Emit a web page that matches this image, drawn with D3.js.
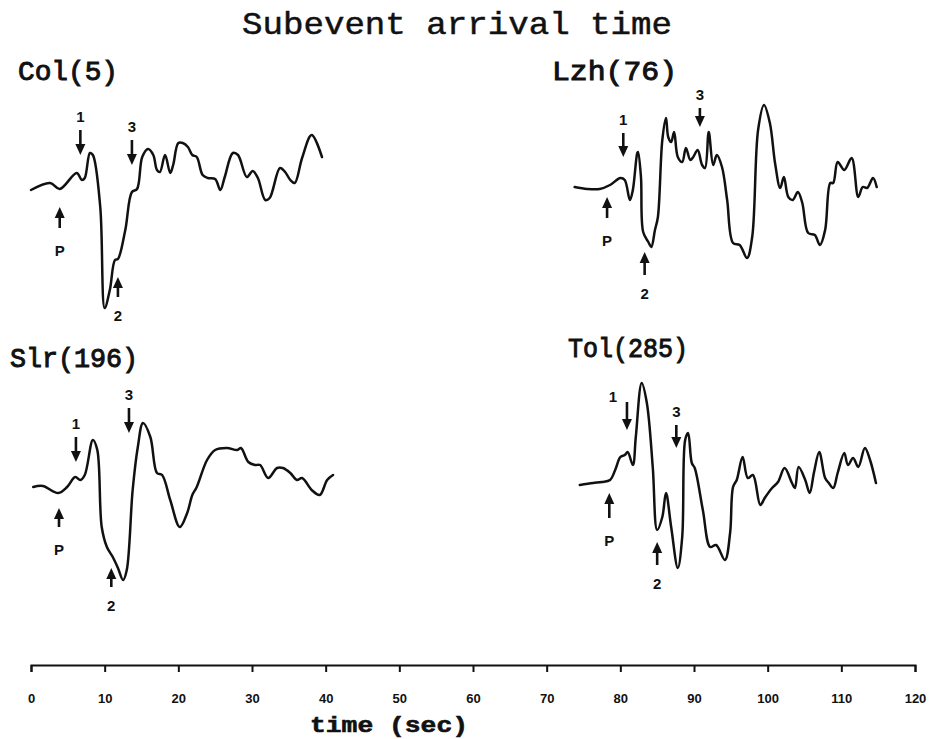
<!DOCTYPE html>
<html>
<head>
<meta charset="utf-8">
<script src="https://cdn.jsdelivr.net/npm/d3@7"></script>
<style>
  body { margin: 0; background: #fff; }
  svg { display: block; }
</style>
</head>
<body>
<div id="chart"></div>
<script>
// axis ticks (seconds)
const tickValues = [0, 10, 20, 30, 40, 50, 60, 70, 80, 90, 100, 110, 120];

// Col(5)
const colTime = [0, 2.6, 3.9, 6.2, 6.9, 7.3, 8.0, 8.4, 9.4, 10.0, 10.7, 11.4, 11.8, 12.8, 13.7, 14.4, 15.1, 15.9, 16.6, 17.1, 17.5, 18.2, 18.9, 19.3, 20.0, 20.6, 21.3, 21.9, 22.5, 23.3, 24.0, 25.0, 25.7, 26.3, 27.4, 28.1, 29.3, 30.1, 30.8, 31.8, 32.4, 33.8, 34.5, 35.2, 35.8, 36.8, 38.1, 39.5];
const colAmp = [0, 7, 1, 17, 10, 12, 37, 35, -17, -118, -100, -70, -69, -40, -2, 1, 33, 41, 35, 20, 18, 35, 17, 25, 47, 47, 43, 35, 33, 15, 12, 11, 0, 13, 37, 35, 13, 19, 12, -10, -8, 22, 18, 10, 7, 32, 55, 33];
const colPicks = [
  { label: "P", t: 3.9, dir: "up", tip: -17, tail: -38 },
  { label: "1", t: 6.7, dir: "down", tip: 35, tail: 60 },
  { label: "2", t: 11.8, dir: "up", tip: -87, tail: -107 },
  { label: "3", t: 13.7, dir: "down", tip: 25, tail: 50 }
];

// Lzh(76)
const lzhTime = [73.8, 75.5, 77.2, 78.6, 80.0, 80.6, 81.3, 81.7, 82.3, 82.4, 82.8, 83.1, 83.8, 84.2, 84.7, 85.1, 85.7, 86.2, 86.5, 86.9, 87.3, 87.8, 88.4, 88.9, 89.5, 89.9, 90.5, 91.1, 91.5, 92.0, 92.6, 93.1, 93.8, 94.5, 95.3, 96.2, 97.2, 97.9, 98.7, 99.5, 100.3, 101.0, 101.7, 102.2, 102.8, 103.4, 104.1, 104.7, 105.5, 106.4, 107.1, 107.8, 108.5, 108.9, 109.5, 110.4, 111.4, 112.3, 112.9, 113.5, 114.3, 114.8];
const lzhAmp = [2, 0, 0, 4, 11, 9, -11, -1, 36, 37, 12, -43, -53, -58, -41, -28, 49, 71, 52, 47, 57, 32, 27, 41, 29, 32, 39, 24, 21, 57, 24, 34, 22, -11, -54, -56, -69, -48, 59, 84, 66, 26, 1, 12, -8, -11, -3, -14, -44, -46, -56, -41, 6, 6, 27, 19, 31, -8, 2, 1, 11, 2];
const lzhPicks = [
  { label: "P", t: 78.2, dir: "up", tip: -8, tail: -29 },
  { label: "1", t: 80.4, dir: "down", tip: 32, tail: 56 },
  { label: "2", t: 83.3, dir: "up", tip: -63, tail: -86 },
  { label: "3", t: 90.8, dir: "down", tip: 62, tail: 81 }
];

// Slr(196)
const slrTime = [0.3, 1.6, 3.7, 4.9, 6.0, 6.7, 7.3, 8.4, 9.0, 9.6, 10.3, 11.1, 11.8, 12.5, 13.0, 13.8, 14.5, 15.2, 16.2, 17.1, 17.8, 18.9, 20.2, 21.2, 21.9, 22.5, 23.9, 25.0, 26.6, 28.0, 28.5, 29.5, 30.4, 31.1, 32.2, 33.4, 34.2, 35.2, 36.1, 36.8, 38.1, 39.2, 40.2, 41.0];
const slrAmp = [0, 1, -6, 0, 10, 7, 12, 47, 37, -40, -60, -70, -81, -93, -83, -3, 40, 64, 50, 14, 12, -13, -40, -26, -8, 0, 27, 37, 39, 37, 39, 25, 22, 22, 9, 19, 19, 14, 7, 9, -3, -8, 7, 12];
const slrPicks = [
  { label: "P", t: 3.8, dir: "up", tip: -21, tail: -40 },
  { label: "1", t: 6.1, dir: "down", tip: 25, tail: 50 },
  { label: "2", t: 10.9, dir: "up", tip: -81, tail: -100 },
  { label: "3", t: 13.3, dir: "down", tip: 54, tail: 79 }
];

// Tol(285)
const tolTime = [74.5, 76.3, 77.5, 78.6, 79.3, 80.0, 80.6, 81.0, 81.7, 82.1, 82.9, 83.6, 84.4, 85.0, 85.7, 86.2, 86.9, 87.8, 88.4, 88.8, 89.2, 89.7, 90.1, 91.2, 92.2, 93.0, 94.2, 94.9, 95.3, 95.8, 96.6, 97.3, 98.0, 99.0, 99.6, 100.6, 101.4, 102.3, 103.3, 103.7, 104.2, 105.1, 105.7, 106.3, 107.0, 107.8, 108.3, 108.9, 109.5, 110.4, 110.9, 111.6, 112.3, 113.2, 113.9, 114.7];
const tolAmp = [-2, 0, 1, 3, 13, 26, 28, 31, 18, 46, 100, 80, 16, -47, -34, -10, -44, -85, -54, 43, 50, 20, 15, -27, -64, -62, -77, -50, -4, 3, 26, 5, 8, -22, -15, -5, 1, 15, 0, -5, 16, 3, -10, 11, 31, 5, 0, -5, 10, 30, 18, 25, 16, 35, 23, 0];
const tolPicks = [
  { label: "P", t: 78.5, dir: "up", tip: -10, tail: -35 },
  { label: "1", t: 80.9, dir: "down", tip: 53, tail: 81 },
  { label: "2", t: 85.0, dir: "up", tip: -59, tail: -82 },
  { label: "3", t: 87.6, dir: "down", tip: 35, tail: 58 }
];

const stations = [
  { name: "Col(5)", time: colTime, amp: colAmp, picks: colPicks },
  { name: "Lzh(76)", time: lzhTime, amp: lzhAmp, picks: lzhPicks },
  { name: "Slr(196)", time: slrTime, amp: slrAmp, picks: slrPicks },
  { name: "Tol(285)", time: tolTime, amp: tolAmp, picks: tolPicks }
];

// layout
const width = 929, height = 739;
const baselines = [190, 189, 487, 483];
const nameBoxes = [
  { x: 18, y: 80, w: 100 },
  { x: 552, y: 80, w: 125 },
  { x: 10, y: 367, w: 128 },
  { x: 568, y: 357, w: 120 }
];
const labelNudge = { "Tol(285)-1": [-14, 8] };

const svg = d3.select("#chart")
  .append("svg")
  .attr("width", width)
  .attr("height", height);

const ink = "#111";

const x = d3.scaleLinear()
  .domain([0, 120])
  .range([31, 915]);

// title
svg.append("text")
  .attr("x", 457)
  .attr("y", 34)
  .attr("text-anchor", "middle")
  .attr("font-family", "Liberation Mono, Courier New, monospace")
  .attr("font-size", 32)
  .attr("textLength", 430)
  .attr("lengthAdjust", "spacingAndGlyphs")
  .attr("fill", ink)
  .attr("stroke", ink)
  .attr("stroke-width", 0.5)
  .text("Subevent arrival time");

stations.forEach((s, i) => renderTrace(svg, s, baselines[i], nameBoxes[i]));

function renderTrace(root, station, baseline, box) {
  const y = d3.scaleLinear()
    .domain([-100, 100])
    .range([baseline + 100, baseline - 100]);

  const pts = station.time.map((t, k) => [t, station.amp[k]]);
  const line = d3.line()
    .x(d => x(d[0]))
    .y(d => y(d[1]))
    .curve(d3.curveCatmullRom.alpha(0.5));

  const g = root.append("g").attr("class", "trace");

  g.append("text")
    .attr("x", box.x)
    .attr("y", box.y)
    .attr("font-family", "Liberation Mono, Courier New, monospace")
    .attr("font-size", 28)
    .attr("textLength", box.w)
    .attr("lengthAdjust", "spacingAndGlyphs")
    .attr("fill", ink)
    .attr("stroke", ink)
    .attr("stroke-width", 1)
    .text(station.name);

  g.append("path")
    .datum(pts)
    .attr("fill", "none")
    .attr("stroke", ink)
    .attr("stroke-width", 2.5)
    .attr("stroke-linejoin", "round")
    .attr("stroke-linecap", "round")
    .attr("d", line);

  // pick arrows
  const picks = g.selectAll("g.pick")
    .data(station.picks)
    .join("g")
    .attr("class", "pick");

  picks.append("line")
    .attr("x1", d => x(d.t))
    .attr("x2", d => x(d.t))
    .attr("y1", d => y(d.tail))
    .attr("y2", d => y(d.tip) + (d.dir === "up" ? 6 : -6))
    .attr("stroke", ink)
    .attr("stroke-width", 2.6);

  picks.append("path")
    .attr("fill", ink)
    .attr("d", d => {
      const px = x(d.t), py = y(d.tip);
      const s = d.dir === "up" ? 1 : -1;
      return `M${px},${py} L${px - 5},${py + s * 11} L${px + 5},${py + s * 11} Z`;
    });

  picks.append("text")
    .attr("x", d => x(d.t) + ((labelNudge[station.name + "-" + d.label] || [0, 0])[0]))
    .attr("y", d => y(d.tail) + (d.dir === "up" ? (d.label === "P" ? 22 : 18) : -14)
      + ((labelNudge[station.name + "-" + d.label] || [0, 0])[1]))
    .attr("dominant-baseline", "central")
    .attr("text-anchor", "middle")
    .attr("font-family", "Liberation Sans, Arial, sans-serif")
    .attr("font-weight", "bold")
    .attr("font-size", 15)
    .attr("fill", ink)
    .text(d => d.label);
}

// time axis
const axisY = 665;
const gAxis = svg.append("g")
  .attr("transform", `translate(0, ${axisY})`)
  .call(d3.axisBottom(x)
    .tickValues(tickValues)
    .tickSize(7)
    .tickSizeOuter(7)
    .tickPadding(22)
    .tickFormat(d3.format("d")));

gAxis.select(".domain")
  .attr("stroke", ink)
  .attr("stroke-width", 2);
gAxis.selectAll(".tick line")
  .attr("stroke", ink)
  .attr("stroke-width", 2);
gAxis.selectAll(".tick text")
  .attr("fill", ink)
  .attr("font-family", "Liberation Sans, Arial, sans-serif")
  .attr("font-weight", "bold")
  .attr("font-size", 13);

svg.append("text")
  .attr("x", x(48.6))
  .attr("y", 732)
  .attr("text-anchor", "middle")
  .attr("font-family", "Liberation Mono, Courier New, monospace")
  .attr("font-weight", "bold")
  .attr("font-size", 22)
  .attr("textLength", 158)
  .attr("lengthAdjust", "spacingAndGlyphs")
  .attr("fill", ink)
  .attr("stroke", ink)
  .attr("stroke-width", 0.6)
  .text("time (sec)");
</script>
</body>
</html>
